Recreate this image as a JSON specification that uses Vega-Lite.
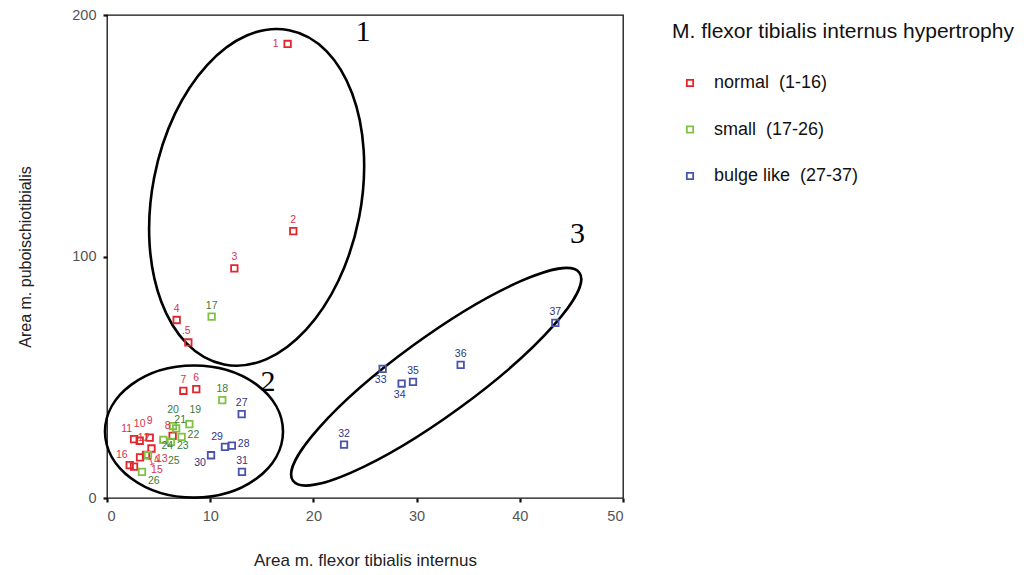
{
  "$schema": "https://vega.github.io/schema/vega-lite/v6.json",
  "autosize": {"type": "none"},
  "padding": {"left": 107, "top": 15, "right": 401, "bottom": 77},
  "width": 516,
  "height": 483,
  "background": "white",
  "config": {
    "font": "Liberation Sans",
    "view": {"stroke": "#111", "strokeWidth": 1.3},
    "axis": {"grid": false, "domain": false, "tickColor": "#111", "tickWidth": 2.2, "tickSize": 4,
             "labelFont": "Liberation Sans", "labelFontSize": 14.5, "labelColor": "#555",
             "titleFont": "Liberation Sans", "titleFontWeight": "normal", "titleColor": "#222"},
    "text": {"fontSize": 10.5, "baseline": "middle", "align": "center"}
  },
  "datasets": {
    "points": [
      {"id": "1", "x": 17.5, "y": 188.0, "group": "normal  (1-16)"},
      {"id": "2", "x": 18.05, "y": 110.5, "group": "normal  (1-16)"},
      {"id": "3", "x": 12.34, "y": 95.1, "group": "normal  (1-16)"},
      {"id": "4", "x": 6.75, "y": 73.7, "group": "normal  (1-16)"},
      {"id": ".5", "x": 7.88, "y": 64.4, "group": "normal  (1-16)"},
      {"id": "6", "x": 8.65, "y": 45.1, "group": "normal  (1-16)"},
      {"id": "7", "x": 7.4, "y": 44.4, "group": "normal  (1-16)"},
      {"id": "8", "x": 6.36, "y": 25.7, "group": "normal  (1-16)"},
      {"id": "9", "x": 4.14, "y": 25.0, "group": "normal  (1-16)"},
      {"id": "10", "x": 3.17, "y": 23.7, "group": "normal  (1-16)"},
      {"id": "11", "x": 2.62, "y": 24.4, "group": "normal  (1-16)"},
      {"id": "12", "x": 4.31, "y": 20.5, "group": "normal  (1-16)"},
      {"id": "13", "x": 3.78, "y": 17.8, "group": "normal  (1-16)"},
      {"id": "14", "x": 3.2, "y": 16.8, "group": "normal  (1-16)"},
      {"id": "15", "x": 2.62, "y": 13.0, "group": "normal  (1-16)"},
      {"id": "16", "x": 2.2, "y": 13.6, "group": "normal  (1-16)"},
      {"id": "17", "x": 10.14, "y": 75.1, "group": "small  (17-26)"},
      {"id": "18", "x": 11.17, "y": 40.5, "group": "small  (17-26)"},
      {"id": "19", "x": 7.98, "y": 30.6, "group": "small  (17-26)"},
      {"id": "20", "x": 6.4, "y": 29.8, "group": "small  (17-26)"},
      {"id": "21", "x": 6.7, "y": 28.8, "group": "small  (17-26)"},
      {"id": "22", "x": 7.23, "y": 25.3, "group": "small  (17-26)"},
      {"id": "23", "x": 6.2, "y": 23.2, "group": "small  (17-26)"},
      {"id": "24", "x": 5.46, "y": 24.1, "group": "small  (17-26)"},
      {"id": "25", "x": 3.97, "y": 17.7, "group": "small  (17-26)"},
      {"id": "26", "x": 3.39, "y": 10.8, "group": "small  (17-26)"},
      {"id": "27", "x": 13.05, "y": 34.7, "group": "bulge like  (27-37)"},
      {"id": "28", "x": 12.1, "y": 21.7, "group": "bulge like  (27-37)"},
      {"id": "29", "x": 11.43, "y": 21.2, "group": "bulge like  (27-37)"},
      {"id": "30", "x": 10.08, "y": 17.7, "group": "bulge like  (27-37)"},
      {"id": "31", "x": 13.08, "y": 10.8, "group": "bulge like  (27-37)"},
      {"id": "32", "x": 22.97, "y": 22.1, "group": "bulge like  (27-37)"},
      {"id": "33", "x": 26.71, "y": 53.5, "group": "bulge like  (27-37)"},
      {"id": "34", "x": 28.55, "y": 47.4, "group": "bulge like  (27-37)"},
      {"id": "35", "x": 29.65, "y": 48.1, "group": "bulge like  (27-37)"},
      {"id": "36", "x": 34.27, "y": 55.1, "group": "bulge like  (27-37)"},
      {"id": "37", "x": 43.44, "y": 72.5, "group": "bulge like  (27-37)"}
    ],
    "ellipses": [
      {"name": "1", "x": 14.5, "y": 124.5},
      {"name": "2", "x": 8.43, "y": 27.5},
      {"name": "3", "x": 31.9, "y": 50.2}
    ],
    "clusterLabels": [
      {"label": "1", "x": 24.8, "y": 193},
      {"label": "2", "x": 15.6, "y": 48.1},
      {"label": "3", "x": 45.6, "y": 109.5}
    ]
  },
  "encoding": {
    "x": {"field": "x", "type": "quantitative", "scale": {"domain": [0, 50], "nice": false, "zero": false},
          "axis": {"values": [0, 10, 20, 30, 40, 50], "title": "Area m. flexor tibialis internus", "titleFontSize": 17, "labelPadding": 7, "titlePadding": 30}},
    "y": {"field": "y", "type": "quantitative", "scale": {"domain": [0, 200], "nice": false, "zero": false},
          "axis": {"values": [0, 100, 200], "title": "Area m. puboischiotibialis", "titleFontSize": 16, "labelPadding": 7, "titlePadding": 38}}
  },
  "layer": [
    {
      "data": {"name": "ellipses"},
      "transform": [{"filter": "datum.name === '1'"}],
      "mark": {"type": "point", "filled": false, "stroke": "#000", "strokeWidth": 2.6, "opacity": 1,
               "shape": "M 0,-1 C 0.3386,-1 0.613,-0.5523 0.613,0 C 0.613,0.5523 0.3386,1 0,1 C -0.3386,1 -0.613,0.5523 -0.613,0 C -0.613,-0.5523 -0.3386,-1 0,-1 Z",
               "size": 116000, "angle": 11}
    },
    {
      "data": {"name": "ellipses"},
      "transform": [{"filter": "datum.name === '2'"}],
      "mark": {"type": "point", "filled": false, "stroke": "#000", "strokeWidth": 2.6, "opacity": 1,
               "shape": "M 1,0 C 1,0.4098 0.5523,0.742 0,0.742 C -0.5523,0.742 -1,0.4098 -1,0 C -1,-0.4098 -0.5523,-0.742 0,-0.742 C 0.5523,-0.742 1,-0.4098 1,0 Z",
               "size": 31684, "angle": 0}
    },
    {
      "data": {"name": "ellipses"},
      "transform": [{"filter": "datum.name === '3'"}],
      "mark": {"type": "point", "filled": false, "stroke": "#000", "strokeWidth": 2.6, "opacity": 1,
               "shape": "M 1,0 C 1,0.1215 0.5523,0.22 0,0.22 C -0.5523,0.22 -1,0.1215 -1,0 C -1,-0.1215 -0.5523,-0.22 0,-0.22 C 0.5523,-0.22 1,-0.1215 1,0 Z",
               "size": 125316, "angle": -36}
    },
    {
      "data": {"name": "clusterLabels"},
      "mark": {"type": "text", "font": "Liberation Serif", "fontSize": 30, "color": "#000"},
      "encoding": {"text": {"field": "label"}}
    },
    {
      "data": {"name": "points"},
      "mark": {"type": "point", "shape": "square", "filled": false, "size": 42, "strokeWidth": 1.8, "opacity": 1},
      "encoding": {
        "color": {"field": "group", "type": "nominal",
                  "scale": {"domain": ["normal  (1-16)", "small  (17-26)", "bulge like  (27-37)"], "range": ["#e3262e", "#80c144", "#4a54aa"]},
                  "legend": {"title": "M. flexor tibialis internus hypertrophy", "orient": "none", "legendX": 565, "legendY": 6,
                             "labelExpr": "replace(datum.label, '  ', '\u00a0\u00a0')",
                             "titleFontSize": 21, "titleFontWeight": "normal", "titleColor": "#111", "titleLimit": 450, "titlePadding": 32,
                             "labelFontSize": 18, "labelColor": "#111", "labelLimit": 400, "rowPadding": 28.5,
                             "symbolType": "square", "symbolSize": 40, "symbolStrokeWidth": 1.8, "symbolOffset": 9, "labelOffset": 15}}
      }
    },
    {
      "data": {"name": "points"},
      "transform": [{"filter": {"field": "id", "oneOf": ["2", "3", "4", "6", "7", "17", "18", "27", "31", "32", "35", "36", "37"]}}],
      "mark": {"type": "text", "dy": -11},
      "encoding": {"text": {"field": "id"},
        "color": {"condition": [{"test": "datum.group === 'normal  (1-16)'", "value": "#d8334d"}, {"test": "datum.group === 'small  (17-26)'", "value": "#3b7a3b"}], "value": "#2f3585"}}
    },
    {
      "data": {"name": "points"},
      "transform": [{"filter": {"field": "id", "oneOf": [".5"]}}],
      "mark": {"type": "text", "dy": -11, "dx": -2},
      "encoding": {"text": {"field": "id"},
        "color": {"condition": [{"test": "datum.group === 'normal  (1-16)'", "value": "#d8334d"}, {"test": "datum.group === 'small  (17-26)'", "value": "#3b7a3b"}], "value": "#2f3585"}}
    },
    {
      "data": {"name": "points"},
      "transform": [{"filter": {"field": "id", "oneOf": ["9", "10"]}}],
      "mark": {"type": "text", "dy": -17},
      "encoding": {"text": {"field": "id"},
        "color": {"condition": [{"test": "datum.group === 'normal  (1-16)'", "value": "#d8334d"}, {"test": "datum.group === 'small  (17-26)'", "value": "#3b7a3b"}], "value": "#2f3585"}}
    },
    {
      "data": {"name": "points"},
      "transform": [{"filter": {"field": "id", "oneOf": ["20"]}}],
      "mark": {"type": "text", "dy": -16},
      "encoding": {"text": {"field": "id"},
        "color": {"condition": [{"test": "datum.group === 'normal  (1-16)'", "value": "#d8334d"}, {"test": "datum.group === 'small  (17-26)'", "value": "#3b7a3b"}], "value": "#2f3585"}}
    },
    {
      "data": {"name": "points"},
      "transform": [{"filter": {"field": "id", "oneOf": ["19"]}}],
      "mark": {"type": "text", "dy": -14, "dx": 6},
      "encoding": {"text": {"field": "id"},
        "color": {"condition": [{"test": "datum.group === 'normal  (1-16)'", "value": "#d8334d"}, {"test": "datum.group === 'small  (17-26)'", "value": "#3b7a3b"}], "value": "#2f3585"}}
    },
    {
      "data": {"name": "points"},
      "transform": [{"filter": {"field": "id", "oneOf": ["21"]}}],
      "mark": {"type": "text", "dy": -8, "dx": 4},
      "encoding": {"text": {"field": "id"},
        "color": {"condition": [{"test": "datum.group === 'normal  (1-16)'", "value": "#d8334d"}, {"test": "datum.group === 'small  (17-26)'", "value": "#3b7a3b"}], "value": "#2f3585"}}
    },
    {
      "data": {"name": "points"},
      "transform": [{"filter": {"field": "id", "oneOf": ["1"]}}],
      "mark": {"type": "text", "dx": -9, "align": "right"},
      "encoding": {"text": {"field": "id"},
        "color": {"condition": [{"test": "datum.group === 'normal  (1-16)'", "value": "#d8334d"}, {"test": "datum.group === 'small  (17-26)'", "value": "#3b7a3b"}], "value": "#2f3585"}}
    },
    {
      "data": {"name": "points"},
      "transform": [{"filter": {"field": "id", "oneOf": ["8", "11", "12", "16", "29"]}}],
      "mark": {"type": "text", "dx": -2, "dy": -10, "align": "right"},
      "encoding": {"text": {"field": "id"},
        "color": {"condition": [{"test": "datum.group === 'normal  (1-16)'", "value": "#d8334d"}, {"test": "datum.group === 'small  (17-26)'", "value": "#3b7a3b"}], "value": "#2f3585"}}
    },
    {
      "data": {"name": "points"},
      "transform": [{"filter": {"field": "id", "oneOf": ["33", "34"]}}],
      "mark": {"type": "text", "dy": 11, "dx": -2},
      "encoding": {"text": {"field": "id"},
        "color": {"condition": [{"test": "datum.group === 'normal  (1-16)'", "value": "#d8334d"}, {"test": "datum.group === 'small  (17-26)'", "value": "#3b7a3b"}], "value": "#2f3585"}}
    },
    {
      "data": {"name": "points"},
      "transform": [{"filter": {"field": "id", "oneOf": ["30"]}}],
      "mark": {"type": "text", "dy": 8, "dx": -11},
      "encoding": {"text": {"field": "id"},
        "color": {"condition": [{"test": "datum.group === 'normal  (1-16)'", "value": "#d8334d"}, {"test": "datum.group === 'small  (17-26)'", "value": "#3b7a3b"}], "value": "#2f3585"}}
    },
    {
      "data": {"name": "points"},
      "transform": [{"filter": {"field": "id", "oneOf": ["24"]}}],
      "mark": {"type": "text", "dy": 6, "dx": 4},
      "encoding": {"text": {"field": "id"},
        "color": {"condition": [{"test": "datum.group === 'normal  (1-16)'", "value": "#d8334d"}, {"test": "datum.group === 'small  (17-26)'", "value": "#3b7a3b"}], "value": "#2f3585"}}
    },
    {
      "data": {"name": "points"},
      "transform": [{"filter": {"field": "id", "oneOf": ["22", "28"]}}],
      "mark": {"type": "text", "dx": 6, "dy": -2, "align": "left"},
      "encoding": {"text": {"field": "id"},
        "color": {"condition": [{"test": "datum.group === 'normal  (1-16)'", "value": "#d8334d"}, {"test": "datum.group === 'small  (17-26)'", "value": "#3b7a3b"}], "value": "#2f3585"}}
    },
    {
      "data": {"name": "points"},
      "transform": [{"filter": {"field": "id", "oneOf": ["23"]}}],
      "mark": {"type": "text", "dx": 6, "dy": 4, "align": "left"},
      "encoding": {"text": {"field": "id"},
        "color": {"condition": [{"test": "datum.group === 'normal  (1-16)'", "value": "#d8334d"}, {"test": "datum.group === 'small  (17-26)'", "value": "#3b7a3b"}], "value": "#2f3585"}}
    },
    {
      "data": {"name": "points"},
      "transform": [{"filter": {"field": "id", "oneOf": ["13"]}}],
      "mark": {"type": "text", "dx": 10, "dy": 4, "align": "left"},
      "encoding": {"text": {"field": "id"},
        "color": {"condition": [{"test": "datum.group === 'normal  (1-16)'", "value": "#d8334d"}, {"test": "datum.group === 'small  (17-26)'", "value": "#3b7a3b"}], "value": "#2f3585"}}
    },
    {
      "data": {"name": "points"},
      "transform": [{"filter": {"field": "id", "oneOf": ["14"]}}],
      "mark": {"type": "text", "dx": 6, "dy": 8, "align": "left", "angle": -20},
      "encoding": {"text": {"field": "id"},
        "color": {"condition": [{"test": "datum.group === 'normal  (1-16)'", "value": "#d8334d"}, {"test": "datum.group === 'small  (17-26)'", "value": "#3b7a3b"}], "value": "#2f3585"}}
    },
    {
      "data": {"name": "points"},
      "transform": [{"filter": {"field": "id", "oneOf": ["15"]}}],
      "mark": {"type": "text", "dx": 17, "dy": 3, "align": "left"},
      "encoding": {"text": {"field": "id"},
        "color": {"condition": [{"test": "datum.group === 'normal  (1-16)'", "value": "#d8334d"}, {"test": "datum.group === 'small  (17-26)'", "value": "#3b7a3b"}], "value": "#2f3585"}}
    },
    {
      "data": {"name": "points"},
      "transform": [{"filter": {"field": "id", "oneOf": ["25"]}}],
      "mark": {"type": "text", "dx": 20, "dy": 6, "align": "left"},
      "encoding": {"text": {"field": "id"},
        "color": {"condition": [{"test": "datum.group === 'normal  (1-16)'", "value": "#d8334d"}, {"test": "datum.group === 'small  (17-26)'", "value": "#3b7a3b"}], "value": "#2f3585"}}
    },
    {
      "data": {"name": "points"},
      "transform": [{"filter": {"field": "id", "oneOf": ["26"]}}],
      "mark": {"type": "text", "dx": 6, "dy": 9, "align": "left"},
      "encoding": {"text": {"field": "id"},
        "color": {"condition": [{"test": "datum.group === 'normal  (1-16)'", "value": "#d8334d"}, {"test": "datum.group === 'small  (17-26)'", "value": "#3b7a3b"}], "value": "#2f3585"}}
    }
  ]
}
